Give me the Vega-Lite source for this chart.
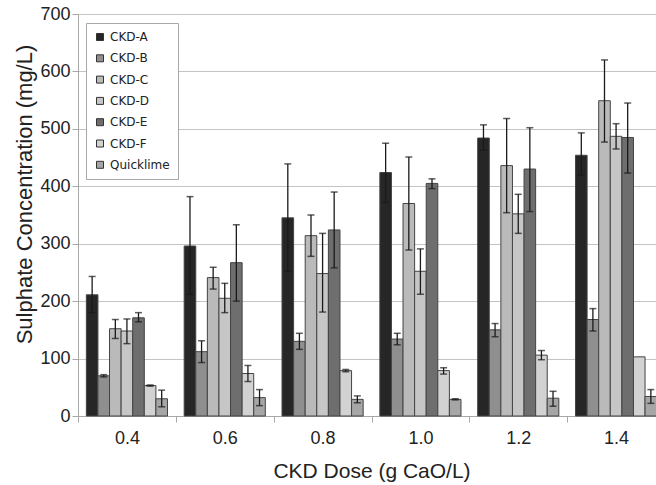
{
  "$schema": "https://vega.github.io/schema/vega-lite/v6.json",
  "autosize": "none",
  "width": 578,
  "height": 402,
  "padding": {"left": 78, "top": 14, "right": 0, "bottom": 69},
  "background": "white",
  "config": {
    "view": {"stroke": null},
    "font": "Liberation Sans",
    "axis": {"labelFont": "Liberation Sans", "titleFont": "Liberation Sans", "labelColor": "#222", "titleColor": "#222", "titleFontWeight": "normal", "domainColor": "#a8a8a8", "tickColor": "#a8a8a8", "gridColor": "#c4c4c4", "tickSize": 6}
  },
  "data": {"values": [
    {"dose": "0.4", "series": "CKD-A", "value": 211, "lo": 180, "hi": 243},
    {"dose": "0.4", "series": "CKD-B", "value": 70, "lo": 68, "hi": 72},
    {"dose": "0.4", "series": "CKD-C", "value": 152, "lo": 135, "hi": 168},
    {"dose": "0.4", "series": "CKD-D", "value": 148, "lo": 126, "hi": 169},
    {"dose": "0.4", "series": "CKD-E", "value": 171, "lo": 164, "hi": 180},
    {"dose": "0.4", "series": "CKD-F", "value": 53, "lo": 52, "hi": 54},
    {"dose": "0.4", "series": "Quicklime", "value": 30, "lo": 16, "hi": 45},
    {"dose": "0.6", "series": "CKD-A", "value": 296, "lo": 212, "hi": 382},
    {"dose": "0.6", "series": "CKD-B", "value": 112, "lo": 93, "hi": 131},
    {"dose": "0.6", "series": "CKD-C", "value": 241, "lo": 221, "hi": 259},
    {"dose": "0.6", "series": "CKD-D", "value": 205, "lo": 180, "hi": 231},
    {"dose": "0.6", "series": "CKD-E", "value": 267, "lo": 200, "hi": 333},
    {"dose": "0.6", "series": "CKD-F", "value": 74, "lo": 60, "hi": 88},
    {"dose": "0.6", "series": "Quicklime", "value": 32, "lo": 18, "hi": 46},
    {"dose": "0.8", "series": "CKD-A", "value": 345, "lo": 252, "hi": 439},
    {"dose": "0.8", "series": "CKD-B", "value": 130, "lo": 116, "hi": 144},
    {"dose": "0.8", "series": "CKD-C", "value": 314, "lo": 278, "hi": 350},
    {"dose": "0.8", "series": "CKD-D", "value": 248, "lo": 181, "hi": 318},
    {"dose": "0.8", "series": "CKD-E", "value": 324, "lo": 258, "hi": 390},
    {"dose": "0.8", "series": "CKD-F", "value": 79, "lo": 77, "hi": 81},
    {"dose": "0.8", "series": "Quicklime", "value": 29, "lo": 23, "hi": 35},
    {"dose": "1.0", "series": "CKD-A", "value": 424, "lo": 372, "hi": 475},
    {"dose": "1.0", "series": "CKD-B", "value": 134, "lo": 124, "hi": 144},
    {"dose": "1.0", "series": "CKD-C", "value": 370, "lo": 289, "hi": 451},
    {"dose": "1.0", "series": "CKD-D", "value": 252, "lo": 212, "hi": 291},
    {"dose": "1.0", "series": "CKD-E", "value": 405, "lo": 396, "hi": 413},
    {"dose": "1.0", "series": "CKD-F", "value": 79, "lo": 73, "hi": 84},
    {"dose": "1.0", "series": "Quicklime", "value": 29, "lo": 28, "hi": 30},
    {"dose": "1.2", "series": "CKD-A", "value": 484, "lo": 463, "hi": 507},
    {"dose": "1.2", "series": "CKD-B", "value": 150, "lo": 138, "hi": 161},
    {"dose": "1.2", "series": "CKD-C", "value": 436, "lo": 354, "hi": 518},
    {"dose": "1.2", "series": "CKD-D", "value": 352, "lo": 318, "hi": 386},
    {"dose": "1.2", "series": "CKD-E", "value": 430, "lo": 356, "hi": 502},
    {"dose": "1.2", "series": "CKD-F", "value": 106, "lo": 98, "hi": 114},
    {"dose": "1.2", "series": "Quicklime", "value": 31, "lo": 17, "hi": 43},
    {"dose": "1.4", "series": "CKD-A", "value": 454, "lo": 419, "hi": 493},
    {"dose": "1.4", "series": "CKD-B", "value": 168, "lo": 148, "hi": 187},
    {"dose": "1.4", "series": "CKD-C", "value": 549, "lo": 477, "hi": 620},
    {"dose": "1.4", "series": "CKD-D", "value": 487, "lo": 465, "hi": 509},
    {"dose": "1.4", "series": "CKD-E", "value": 485, "lo": 423, "hi": 545},
    {"dose": "1.4", "series": "CKD-F", "value": 103, "lo": null, "hi": null},
    {"dose": "1.4", "series": "Quicklime", "value": 34, "lo": 22, "hi": 46}
  ]},
  "encoding": {
    "x": {"field": "dose", "type": "nominal",
      "scale": {"range": [0, 587], "paddingInner": 0, "paddingOuter": 0},
      "axis": {"title": "CKD Dose (g CaO/L)", "labelAngle": 0, "labelFontSize": 18, "labelPadding": 7, "tickBand": "extent", "titleFontSize": 21, "titlePadding": 13, "grid": false}},
    "xOffset": {"field": "series", "type": "nominal", "scale": {"paddingInner": 0, "paddingOuter": 0.72}}
  },
  "layer": [
    {
      "mark": {"type": "bar", "stroke": "#444", "strokeWidth": 1},
      "encoding": {
        "y": {"field": "value", "type": "quantitative",
          "scale": {"domain": [0, 700]},
          "axis": {"title": "Sulphate Concentration (mg/L)", "values": [0, 100, 200, 300, 400, 500, 600, 700], "labelFontSize": 18, "labelPadding": 2, "titleFontSize": 22, "titleX": -42, "titleY": 180, "grid": true}},
        "color": {"field": "series", "type": "nominal",
          "scale": {"domain": ["CKD-A", "CKD-B", "CKD-C", "CKD-D", "CKD-E", "CKD-F", "Quicklime"],
                    "range": ["#262626", "#8f8f8f", "#bababa", "#c6c6c6", "#6e6e6e", "#d2d2d2", "#a6a6a6"]},
          "legend": {"title": null, "orient": "none", "legendX": 8, "legendY": 9, "fillColor": "white", "strokeColor": "#a8a8a8", "padding": 8, "rowPadding": 9.3, "symbolType": "square", "symbolSize": 49, "symbolStrokeColor": "#333", "symbolStrokeWidth": 1, "labelFont": "DejaVu Sans", "labelFontSize": 12, "labelColor": "#222", "labelOffset": 4}}
      }
    },
    {
      "mark": {"type": "rule", "color": "#1a1a1a", "strokeWidth": 1.3},
      "encoding": {
        "y": {"field": "lo", "type": "quantitative"},
        "y2": {"field": "hi"}
      }
    },
    {
      "mark": {"type": "tick", "color": "#1a1a1a", "thickness": 1.5, "size": 7},
      "encoding": {"y": {"field": "lo", "type": "quantitative"}}
    },
    {
      "mark": {"type": "tick", "color": "#1a1a1a", "thickness": 1.5, "size": 7},
      "encoding": {"y": {"field": "hi", "type": "quantitative"}}
    }
  ]
}
